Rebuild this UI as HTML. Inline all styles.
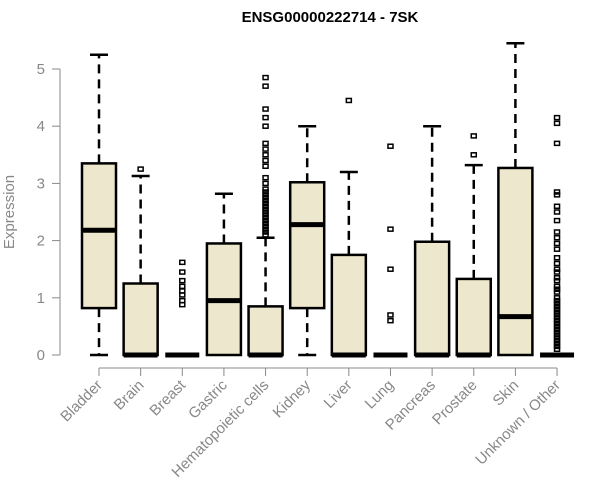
<!DOCTYPE html>
<html><head><meta charset="utf-8"><style>
html,body{margin:0;padding:0;background:#fff}
svg{display:block;font-family:"Liberation Sans",sans-serif}
</style></head><body>
<svg id="chart" width="600" height="500">
<text x="330" y="22" text-anchor="middle" font-weight="bold" font-size="15">ENSG00000222714 - 7SK</text>
<text transform="translate(14,212) rotate(-90)" text-anchor="middle" font-size="15" fill="#888">Expression</text>
<g id="yaxis"></g>
<g id="xaxis"></g>
<g id="boxes"></g>
</svg>
<script>
const categories=["Bladder","Brain","Breast","Gastric","Hematopoietic cells","Kidney","Liver","Lung","Pancreas","Prostate","Skin","Unknown / Other"];
const mins=[0,0,0,0,0,0,0,0,0,0,0,0];
const q1s=[0.82,0,0,0,0,0.82,0,0,0,0,0,0];
const medians=[2.18,0,0,0.95,0,2.28,0,0,0,0,0.67,0];
const q3s=[3.35,1.25,0,1.95,0.85,3.02,1.75,0,1.98,1.33,3.27,0];
const maxs=[5.25,3.13,0,2.82,2.05,4.0,3.2,0,4.0,3.32,5.45,0];
const outliers=[[],[3.25],[0.88,0.95,1.05,1.12,1.2,1.3,1.45,1.62],[],
[2.1,2.15,2.2,2.25,2.3,2.35,2.4,2.45,2.5,2.55,2.6,2.65,2.7,2.75,2.8,2.85,2.9,3.0,3.1,3.3,3.4,3.5,3.6,3.7,4.0,4.15,4.3,4.7,4.85],
[],[4.45],[0.6,0.7,1.5,2.2,3.65],[],[3.5,3.83],[],
[0.1,0.15,0.2,0.25,0.3,0.35,0.4,0.45,0.5,0.55,0.6,0.65,0.7,0.75,0.8,0.85,0.9,0.95,1.0,1.1,1.15,1.2,1.3,1.35,1.45,1.5,1.6,1.7,1.85,1.95,2.05,2.15,2.35,2.5,2.6,2.8,2.85,3.7,4.05,4.15]];
const yTicks=[0,1,2,3,4,5];
const NS="http://www.w3.org/2000/svg";
const y=v=>355-57.2*v;
const x=i=>99+41.64*i;
const bw=34;
function mk(tag,attrs,parent){const e=document.createElementNS(NS,tag);for(const k in attrs)e.setAttribute(k,attrs[k]);parent.appendChild(e);return e;}
const ya=document.getElementById('yaxis'),xa=document.getElementById('xaxis'),bx=document.getElementById('boxes');
let l=mk('line',{x1:60,x2:60,y1:y(5),y2:y(0),stroke:'#888'},ya);


yTicks.forEach(t=>{
 const tk=mk('line',{x1:52,x2:60,y1:y(t),y2:y(t),stroke:'#888'},ya);
 
 
 const tx=mk('text',{x:45,y:y(t)+5,'text-anchor':'end','font-size':15,fill:'#888'},ya);
 tx.textContent=t;
 
 
});
l=mk('line',{x1:x(0),x2:x(categories.length-1),y1:368,y2:368,stroke:'#888'},xa);


categories.forEach((c,i)=>{
 const cx=x(i);
 const tk=mk('line',{x1:cx,x2:cx,y1:368,y2:376,stroke:'#888'},xa);
 
 
 const tx=mk('text',{transform:`translate(${cx+4},386) rotate(-45)`,'text-anchor':'end','font-size':15,fill:'#888'},xa);
 tx.textContent=c;
 
 
 const g=mk('g',{},bx);
 
 
 if(maxs[i]>q3s[i]){
  mk('line',{x1:cx,x2:cx,y1:y(q3s[i]),y2:y(maxs[i]),stroke:'#000','stroke-width':2.5,'stroke-dasharray':'9 6'},g);
  mk('line',{x1:cx-9,x2:cx+9,y1:y(maxs[i]),y2:y(maxs[i]),stroke:'#000','stroke-width':2.5},g);
 }
 if(q1s[i]>mins[i]){
  mk('line',{x1:cx,x2:cx,y1:y(q1s[i]),y2:y(mins[i]),stroke:'#000','stroke-width':2.5,'stroke-dasharray':'9 6'},g);
  mk('line',{x1:cx-9,x2:cx+9,y1:y(mins[i]),y2:y(mins[i]),stroke:'#000','stroke-width':2.5},g);
 }
 if(q3s[i]>q1s[i]) mk('rect',{x:cx-bw/2,y:y(q3s[i]),width:bw,height:y(q1s[i])-y(q3s[i]),fill:'#ede8cd',stroke:'#000','stroke-width':2.5},g);
 mk('line',{x1:cx-bw/2,x2:cx+bw/2,y1:y(medians[i]),y2:y(medians[i]),stroke:'#000','stroke-width':5},g);
 outliers[i].forEach(v=>{
  const o=mk('rect',{x:cx-2.5,y:y(v)-2,width:5,height:4,fill:'none',stroke:'#000','stroke-width':1.5},g);
  
  
 });
});
</script>
</body></html>
